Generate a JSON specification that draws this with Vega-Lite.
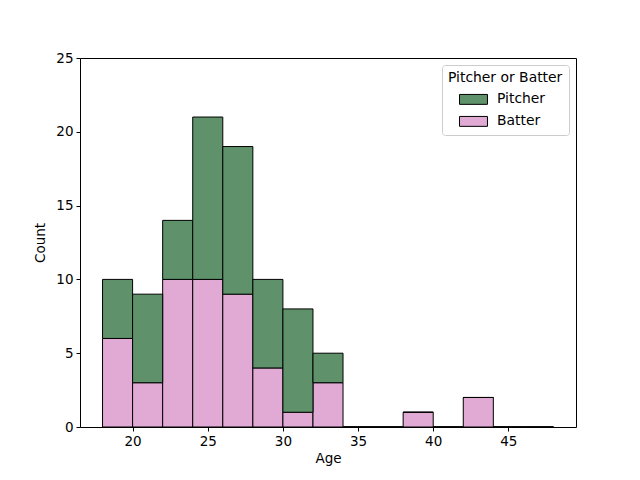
{
  "$schema": "https://vega.github.io/schema/vega-lite/v6.json",
  "width": 496,
  "height": 369,
  "autosize": {"type": "none"},
  "padding": {"left": 80, "top": 58, "right": 64, "bottom": 53},
  "background": "white",
  "config": {
    "font": "DejaVu Sans",
    "view": {"stroke": "black", "strokeWidth": 1},
    "axis": {
      "grid": false,
      "domain": false,
      "tickColor": "black",
      "tickSize": 4,
      "labelFontSize": 13.5,
      "labelColor": "black",
      "titleFontSize": 13.5,
      "titleFontWeight": "normal",
      "titleColor": "black",
      "labelPadding": 3
    },
    "legend": {
      "titleFontSize": 13.9,
      "titleFontWeight": "normal",
      "labelFontSize": 13.9,
      "titleColor": "black",
      "labelColor": "black"
    }
  },
  "data": {
    "values": [
      {"age_start": 18, "age_end": 20, "group": "Batter", "count": 6},
      {"age_start": 20, "age_end": 22, "group": "Batter", "count": 3},
      {"age_start": 22, "age_end": 24, "group": "Batter", "count": 10},
      {"age_start": 24, "age_end": 26, "group": "Batter", "count": 10},
      {"age_start": 26, "age_end": 28, "group": "Batter", "count": 9},
      {"age_start": 28, "age_end": 30, "group": "Batter", "count": 4},
      {"age_start": 30, "age_end": 32, "group": "Batter", "count": 1},
      {"age_start": 32, "age_end": 34, "group": "Batter", "count": 3},
      {"age_start": 34, "age_end": 36, "group": "Batter", "count": 0},
      {"age_start": 36, "age_end": 38, "group": "Batter", "count": 0},
      {"age_start": 38, "age_end": 40, "group": "Batter", "count": 1},
      {"age_start": 40, "age_end": 42, "group": "Batter", "count": 0},
      {"age_start": 42, "age_end": 44, "group": "Batter", "count": 2},
      {"age_start": 44, "age_end": 46, "group": "Batter", "count": 0},
      {"age_start": 46, "age_end": 48, "group": "Batter", "count": 0},
      {"age_start": 18, "age_end": 20, "group": "Pitcher", "count": 4},
      {"age_start": 20, "age_end": 22, "group": "Pitcher", "count": 6},
      {"age_start": 22, "age_end": 24, "group": "Pitcher", "count": 4},
      {"age_start": 24, "age_end": 26, "group": "Pitcher", "count": 11},
      {"age_start": 26, "age_end": 28, "group": "Pitcher", "count": 10},
      {"age_start": 28, "age_end": 30, "group": "Pitcher", "count": 6},
      {"age_start": 30, "age_end": 32, "group": "Pitcher", "count": 7},
      {"age_start": 32, "age_end": 34, "group": "Pitcher", "count": 2},
      {"age_start": 34, "age_end": 36, "group": "Pitcher", "count": 0},
      {"age_start": 36, "age_end": 38, "group": "Pitcher", "count": 0},
      {"age_start": 38, "age_end": 40, "group": "Pitcher", "count": 0},
      {"age_start": 40, "age_end": 42, "group": "Pitcher", "count": 0},
      {"age_start": 42, "age_end": 44, "group": "Pitcher", "count": 0},
      {"age_start": 44, "age_end": 46, "group": "Pitcher", "count": 0},
      {"age_start": 46, "age_end": 48, "group": "Pitcher", "count": 0}
    ]
  },
  "transform": [
    {
      "stack": "count",
      "groupby": ["age_start"],
      "sort": [{"field": "group", "order": "ascending"}],
      "as": ["y_lo", "y_hi"]
    }
  ],
  "mark": {"type": "bar", "stroke": "black", "strokeWidth": 1, "opacity": 1},
  "encoding": {
    "x": {
      "field": "age_start",
      "type": "quantitative",
      "scale": {"domain": [16.5, 49.5], "nice": false, "zero": false},
      "axis": {"title": "Age", "values": [20, 25, 30, 35, 40, 45], "titlePadding": 4}
    },
    "x2": {"field": "age_end"},
    "y": {
      "field": "y_hi",
      "type": "quantitative",
      "scale": {"domain": [0, 25], "nice": false},
      "axis": {"title": "Count", "values": [0, 5, 10, 15, 20, 25], "titlePadding": 8}
    },
    "y2": {"field": "y_lo"},
    "color": {
      "field": "group",
      "type": "nominal",
      "scale": {"domain": ["Pitcher", "Batter"], "range": ["#5f926a", "#e0aad4"]},
      "legend": {
        "title": "Pitcher or Batter",
        "orient": "top-right",
        "offset": 7,
        "padding": 6,
        "strokeColor": "#cccccc",
        "cornerRadius": 3,
        "fillColor": "white",
        "symbolType": "M-1.27,-0.45L1.27,-0.45L1.27,0.45L-1.27,0.45Z",
        "symbolSize": 484,
        "symbolOffset": 14,
        "symbolStrokeColor": "black",
        "symbolStrokeWidth": 1,
        "symbolOpacity": 1,
        "rowPadding": 3,
        "labelOffset": 12,
        "titlePadding": 3
      }
    }
  }
}
